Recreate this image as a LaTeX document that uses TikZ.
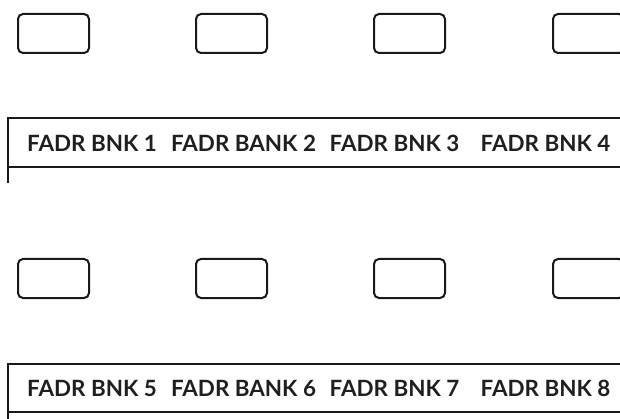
\documentclass[tikz,border=0pt]{standalone}
\usepackage{fontspec}
\setmainfont{Lato}
\begin{document}
\begin{tikzpicture}[x=1pt,y=-1pt,
  btn/.style={draw=black!90,line width=2pt,rounded corners=5pt,minimum width=71pt,minimum height=39pt,inner sep=0pt,anchor=north west},
  lbl/.style={font=\bfseries\fontsize{22.4}{26}\selectfont,text=black!88,inner sep=0pt,anchor=base},
  barline/.style={draw=black!90,line width=2pt}]
\useasboundingbox (0,0) rectangle (620,419);
\clip (0,0) rectangle (620,419);
% row 1
\foreach \i/\x in {1/17,2/195,3/373,4/552}{
  \node[btn] (b\i) at (\x,13) {};
}
\draw[barline] (620,118) -- (8,118) -- (8,183);
\draw[barline] (8,167) -- (620,167);
\node[lbl] (t1) at (92,152) {FADR BNK 1};
\node[lbl] (t2) at (243.5,152) {FADR BANK 2};
\node[lbl] (t3) at (394.5,152) {FADR BNK 3};
\node[lbl] (t4) at (545.5,152) {FADR BNK 4};
% row 2
\foreach \i/\x in {5/17,6/195,7/373,8/552}{
  \node[btn] (b\i) at (\x,258) {};
}
\draw[barline] (620,364) -- (8,364) -- (8,420);
\draw[barline] (8,412) -- (620,412);
\node[lbl] (t5) at (92,396) {FADR BNK 5};
\node[lbl] (t6) at (243.5,396) {FADR BANK 6};
\node[lbl] (t7) at (394.5,396) {FADR BNK 7};
\node[lbl] (t8) at (545.5,396) {FADR BNK 8};
\end{tikzpicture}
\end{document}
